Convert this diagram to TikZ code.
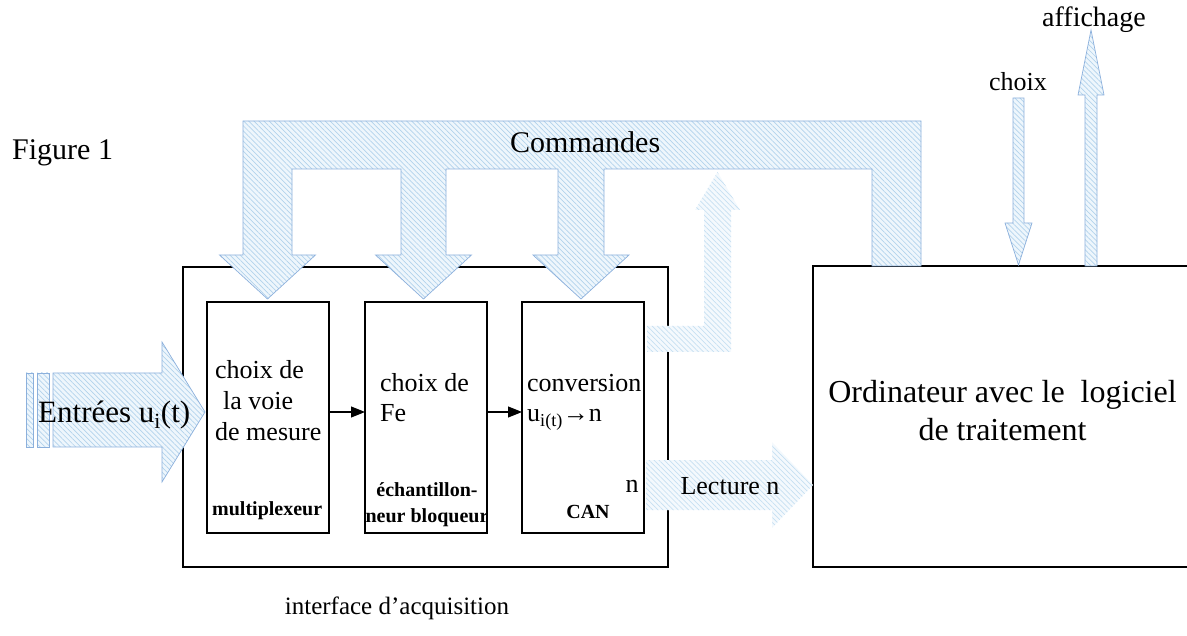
\documentclass[tikz,border=0pt]{standalone}
\usepackage{fontspec}
\setmainfont{Liberation Serif}
\usetikzlibrary{arrows.meta,patterns.meta}
\definecolor{fillblue}{RGB}{238,246,252}
\definecolor{hatchblue}{RGB}{178,211,236}
\definecolor{edgeblue}{RGB}{140,176,220}
\definecolor{lightfill}{RGB}{244,249,253}
\definecolor{lighthatch}{RGB}{198,224,242}
\begin{document}
\begin{tikzpicture}[x=1pt,y=-1pt,
  fat/.style={preaction={fill=fillblue}, pattern={Lines[angle=-45,distance=3.6pt,line width=0.7pt]}, pattern color=hatchblue, draw=edgeblue, line width=0.7pt},
  fatlight/.style={preaction={fill=lightfill}, pattern={Lines[angle=-45,distance=3.6pt,line width=0.7pt]}, pattern color=lighthatch},
  blk/.style={draw=black, line width=1.1pt, inner sep=0pt, outer sep=0pt},
  txt/.style={inner sep=0pt, anchor=base west, align=left},
  big/.style={font=\fontsize{26}{30}\selectfont},
  bld/.style={font=\fontsize{20}{26}\selectfont\bfseries},
  tip/.style={-{Triangle[length=14pt,width=11pt]}, line width=1.1pt}
]
\useasboundingbox (0,0) rectangle (1187,636);

% boxes
\node[blk, minimum width=485pt, minimum height=300pt] (iface) at (425.5,417) {};
\node[blk, minimum width=122pt, minimum height=231pt] (b1) at (268,417.5) {};
\node[blk, minimum width=122pt, minimum height=231pt] (b2) at (426,417.5) {};
\node[blk, minimum width=122pt, minimum height=231pt] (b3) at (583,417.5) {};
\node[blk, minimum width=380pt, minimum height=301pt] (pc) at (1003,416.5) {};

% arrows between boxes
\draw[tip] ([yshift=5.5pt]b1.east) -- ([yshift=5.5pt]b2.west);
\draw[tip] ([yshift=5.5pt]b2.east) -- ([yshift=5.5pt]b3.west);

% Commandes bus
\draw[fat] (243,255) -- (219.5,255) -- (267.5,299) -- (315.5,255) -- (292,255) -- (292,169)
  -- (401,169) -- (401,255) -- (375.5,255) -- (423.5,299) -- (471.5,255) -- (446,255) -- (446,169)
  -- (558,169) -- (558,255) -- (533,255) -- (581,299) -- (629,255) -- (604,255) -- (604,169)
  -- (872,169) -- (872,266) -- (921,266) -- (921,121) -- (243,121) -- cycle;

% output of CAN going up
\path[fatlight] (647,326) -- (704,326) -- (704,210) -- (695,210) -- (717.5,172) -- (740,210)
  -- (731,210) -- (731,352) -- (647,352) -- cycle;

% Lecture n
\path[fatlight] (646,460) -- (772,460) -- (772,442) -- (813,485) -- (772,528) -- (772,510) -- (646,510) -- cycle;

% Entrees
\draw[fat] (26,373) rectangle (33,447);
\draw[fat] (37,373) rectangle (49,447);
\draw[fat] (53,373) -- (162,373) -- (162,342) -- (205,412) -- (162,482) -- (162,447) -- (53,447) -- cycle;

% choix / affichage
\draw[fat] (1013,98) -- (1024,98) -- (1024,223) -- (1032,223) -- (1018.5,265) -- (1005,223) -- (1013,223) -- cycle;
\draw[fat] (1085,266) -- (1085,95) -- (1078,95) -- (1091,30) -- (1104,95) -- (1097,95) -- (1097,266) -- cycle;

% texts (multi-line nodes are placed by the baseline of their last line)
\node[txt, font=\fontsize{30}{36}\selectfont] (fig) at (12,160) {Figure 1};
\node[txt, font=\fontsize{30}{36}\selectfont] (cmd) at (510,153) {Commandes};
\node[txt, font=\fontsize{31}{36}\selectfont] (ent) at (38,423) {Entrées u\textsubscript{i}(t)};
\node[txt, font=\fontsize{26}{31}\selectfont] (t1) at (215,440) {choix de\\\hspace*{8pt}la voie\\de mesure};
\node[txt, big] (t2) at (380,422) {choix de\\Fe};
\node[txt, big] (t3) at (527,422) {conversion\\u\textsubscript{i(t)}→n};
\node[txt, bld] (mux) at (212,515) {multiplexeur};
\node[txt, bld, align=center, anchor=base] (ech) at (427,522) {échantillon-\\neur bloqueur};
\node[txt, bld, anchor=base] (can) at (588,518) {CAN};
\node[txt, big, anchor=base] (nn) at (632,493) {n};
\node[txt, big, anchor=base] (lec) at (730,494) {Lecture n};
\node[txt, font=\fontsize{26}{31}\selectfont, anchor=base] (ch) at (1018,91) {choix};
\node[txt, font=\fontsize{28}{33}\selectfont, anchor=base] (aff) at (1094,27) {affichage};
\node[inner sep=0pt, font=\fontsize{32}{38}\selectfont, align=center, anchor=base] (ord) at (1002.5,440) {Ordinateur avec le \ logiciel\\de traitement};
\node[txt, font=\fontsize{25}{30}\selectfont, anchor=base] (acq) at (397,614) {interface d’acquisition};
\end{tikzpicture}
\end{document}
